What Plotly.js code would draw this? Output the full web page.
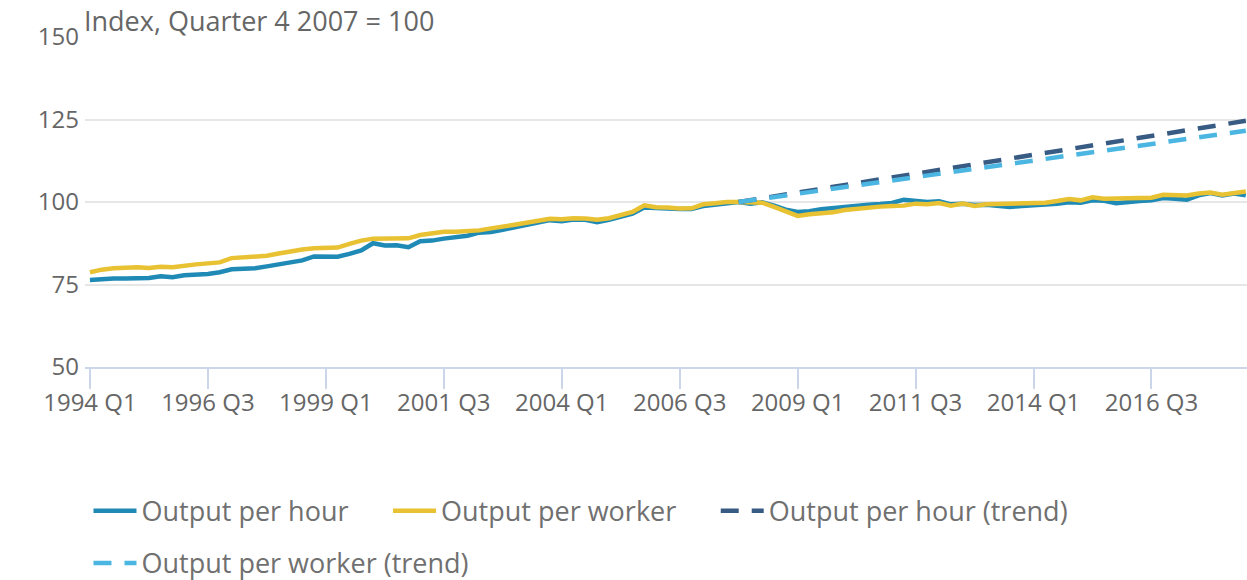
<!DOCTYPE html>
<html>
<head>
<meta charset="utf-8">
<script src="https://cdn.plot.ly/plotly-3.0.1.min.js"></script>
<style>
  html, body { margin: 0; padding: 0; background: #ffffff; }
  #chart { width: 1247px; height: 580px; }
</style>
</head>
<body>
<div id="chart"></div>
<script>
// Quarter categories 1994 Q1 .. 2018 Q3
const firstYear = 1994;
const lastYear = 2018;
const lastQuarter = 3;
const quarters = [];
for (let y = firstYear; y <= lastYear; y++) {
  for (let q = 1; q <= 4; q++) {
    if (y === lastYear && q > lastQuarter) break;
    quarters.push(y + ' Q' + q);
  }
}

// Output per hour (index, 2007 Q4 = 100)
const outputPerHour = [
  76.4, 76.7, 76.8, 76.8, 76.9, 77.0, 77.5, 77.2, 77.8, 77.9,
  78.2, 78.7, 79.6, 79.8, 79.9, 80.5, 81.1, 81.7, 82.3, 83.5,
  83.5, 83.4, 84.3, 85.3, 87.5, 86.8, 86.9, 86.3, 88.1, 88.3,
  88.9, 89.3, 89.8, 90.7, 90.9, 91.6, 92.3, 92.9, 93.6, 94.5,
  94.2, 94.7, 94.6, 93.9, 94.6, 95.7, 96.5, 98.3, 98.0, 98.0,
  97.9, 97.9, 98.8, 99.3, 99.7, 100.0, 99.5, 99.9, 98.9, 97.7,
  97.0, 97.2, 97.8, 98.2, 98.5, 98.8, 99.2, 99.4, 99.7, 100.7,
  100.2, 100.0, 100.2, 99.3, 99.5, 99.1, 99.2, 99.0, 98.5, 98.8,
  99.0, 99.1, 99.5, 99.9, 99.8, 100.5, 100.4, 99.6, 100.1, 100.3,
  100.5, 101.2, 101.0, 100.7, 102.0, 102.7, 102.0, 102.6, 102.0
];

// Output per worker (index, 2007 Q4 = 100)
const outputPerWorker = [
  78.7, 79.5, 79.9, 80.2, 80.2, 80.0, 80.4, 80.2, 80.8, 81.1,
  81.4, 81.7, 83.0, 83.3, 83.3, 83.7, 84.4, 85.1, 85.6, 86.0,
  86.2, 86.2, 87.3, 88.3, 88.9, 89.0, 89.0, 89.0, 90.0, 90.6,
  91.0, 91.0, 91.2, 91.4, 92.0, 92.4, 93.1, 93.7, 94.4, 94.9,
  94.8, 95.1, 95.0, 94.6, 95.1, 96.2, 97.0, 99.0, 98.4, 98.3,
  98.0, 98.1, 99.3, 99.6, 100.0, 100.0, 99.9, 99.8, 98.5, 97.0,
  95.8, 96.3, 96.6, 96.9, 97.6, 98.0, 98.3, 98.6, 98.8, 98.9,
  99.5, 99.3, 99.7, 98.9, 99.5, 98.8, 99.3, 99.4, 99.2, 99.3,
  99.5, 99.8, 100.3, 100.9, 100.5, 101.4, 101.0, 101.0, 101.0, 101.0,
  101.3, 102.2, 102.2, 102.0, 102.6, 102.9, 102.2, 102.8, 103.2
];

// Pre-downturn trends, from 2007 Q4 to the last quarter
const trendQuarters = ['2007 Q4', '2018 Q3'];
const perHourTrend = [100, 124.6];
const perWorkerTrend = [100, 121.6];

const xTickLabels = ['1994 Q1', '1996 Q3', '1999 Q1', '2001 Q3', '2004 Q1',
                     '2006 Q3', '2009 Q1', '2011 Q3', '2014 Q1', '2016 Q3'];
const yTickValues = [50, 75, 100, 125, 150];

const FONT = '"Open Sans", "Noto Sans", sans-serif';
const GREY = '#666666';

const traces = [
  { x: quarters, y: outputPerHour, name: 'Output per hour', type: 'scatter', mode: 'lines',
    line: { color: '#1e8ab5', width: 4.5 }, legend: 'legend', hoverinfo: 'skip' },
  { x: quarters, y: outputPerWorker, name: 'Output per worker', type: 'scatter', mode: 'lines',
    line: { color: '#e8c232', width: 4.5 }, legend: 'legend2', hoverinfo: 'skip' },
  { x: trendQuarters, y: perHourTrend, name: 'Output per hour (trend)', type: 'scatter', mode: 'lines',
    line: { color: '#375b83', width: 4.5, dash: '18px,13px' }, legend: 'legend3', hoverinfo: 'skip' },
  { x: trendQuarters, y: perWorkerTrend, name: 'Output per worker (trend)', type: 'scatter', mode: 'lines',
    line: { color: '#4bb6e1', width: 4.5, dash: '18px,13px' }, legend: 'legend4', hoverinfo: 'skip' }
];

function legendAt(x, y) {
  return {
    orientation: 'h', x: x, y: y, xanchor: 'left', yanchor: 'middle',
    font: { family: FONT, size: 27, color: '#707070' },
    bgcolor: 'rgba(0,0,0,0)', itemwidth: 43, itemclick: false, itemdoubleclick: false
  };
}

const layout = {
  width: 1247, height: 580,
  margin: { l: 85, r: 0, t: 37, b: 213, pad: 0, autoexpand: false },
  paper_bgcolor: '#ffffff', plot_bgcolor: '#ffffff',
  font: { family: FONT, size: 24, color: GREY },
  showlegend: true,
  xaxis: {
    type: 'category', categoryorder: 'array', categoryarray: quarters,
    range: [-0.42, 98.1],
    tickmode: 'array', tickvals: xTickLabels, ticktext: xTickLabels,
    ticks: 'outside', ticklen: 20, tickwidth: 2, tickcolor: '#ccd6eb',
    ticklabelstandoff: -7,
    showline: true, linecolor: '#ccd6eb', linewidth: 2,
    showgrid: false, zeroline: false, automargin: false,
    tickfont: { family: FONT, size: 24, color: GREY }, fixedrange: true
  },
  yaxis: {
    range: [50, 150], tickmode: 'array', tickvals: yTickValues,
    showgrid: true, gridcolor: '#e6e6e6', gridwidth: 2,
    zeroline: false, showline: false, ticks: '', ticklabelstandoff: 5, automargin: false,
    tickfont: { family: FONT, size: 24, color: GREY }, fixedrange: true
  },
  annotations: [{
    text: 'Index, Quarter 4 2007 = 100', xref: 'paper', yref: 'paper',
    x: 0, y: 1.0506, xanchor: 'left', yanchor: 'middle', showarrow: false, xshift: -3,
    font: { family: FONT, size: 27, color: GREY }
  }],
  legend: legendAt(0.003, -0.437),
  legend2: legendAt(0.2608, -0.437),
  legend3: legendAt(0.5428, -0.437),
  legend4: legendAt(0.003, -0.595)
};

Plotly.newPlot('chart', traces, layout, { staticPlot: true, displayModeBar: false });
</script>
</body>
</html>
